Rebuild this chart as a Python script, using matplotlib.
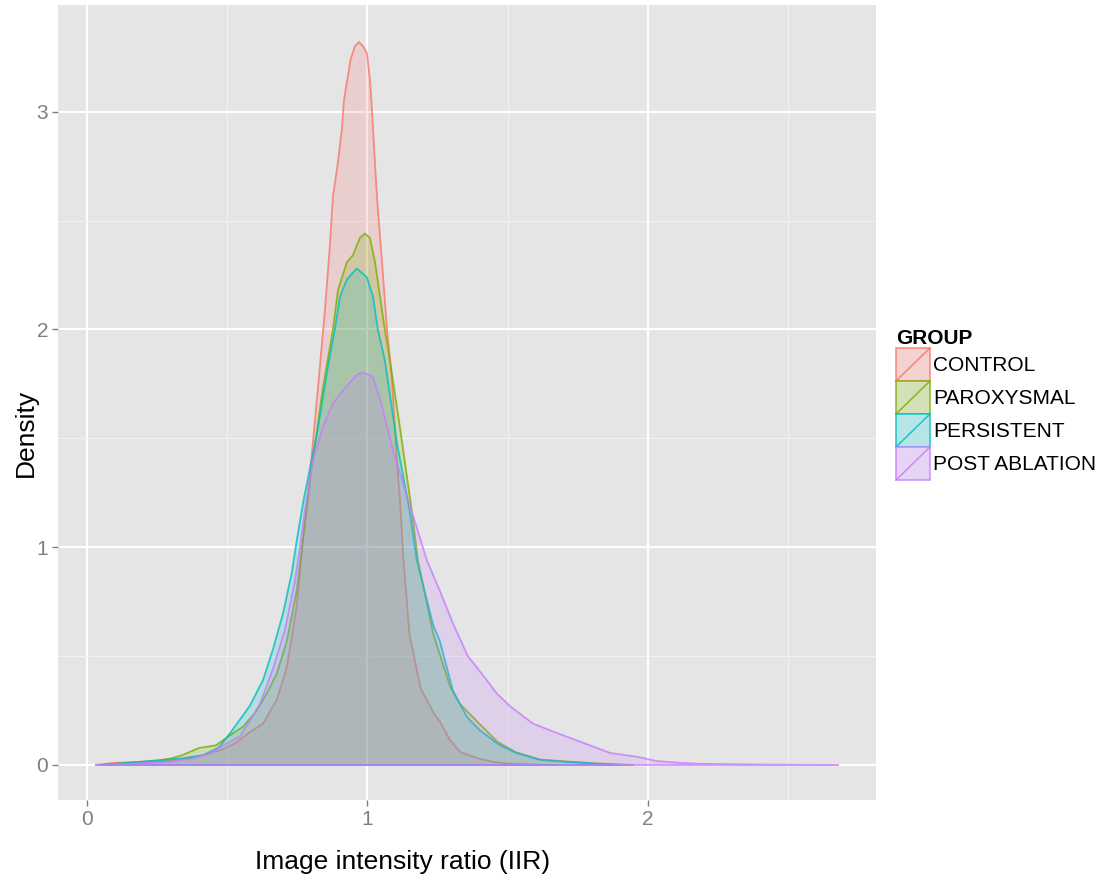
import numpy as np
import matplotlib
matplotlib.use("Agg")
import matplotlib.pyplot as plt
from matplotlib.legend_handler import HandlerBase
from matplotlib.patches import Rectangle, Patch
from matplotlib.lines import Line2D

plt.rcParams['font.family'] = ['Liberation Sans', 'DejaVu Sans']

# Density curves (x = IIR, y = density)
groups = ["CONTROL", "PAROXYSMAL", "PERSISTENT", "POST ABLATION"]
colors = ["#F8766D", "#7CAE00", "#00BFC4", "#C77CFF"]

control_x = [0.03, 0.10, 0.15, 0.20, 0.30, 0.40, 0.48, 0.53, 0.58, 0.628, 0.677, 0.713, 0.748,
             0.77, 0.80, 0.825, 0.848, 0.866, 0.877, 0.895, 0.909, 0.916, 0.94, 0.955, 0.97,
             0.985, 0.998, 1.009, 1.016, 1.034, 1.052, 1.07, 1.087, 1.105, 1.116, 1.127, 1.15,
             1.19, 1.24, 1.258, 1.294, 1.33, 1.39, 1.45, 1.50, 1.58, 1.65]
control_y = [0.0, 0.01, 0.012, 0.01, 0.02, 0.04, 0.07, 0.10, 0.15, 0.19, 0.30, 0.45, 0.73,
             1.03, 1.40, 1.75, 2.08, 2.38, 2.61, 2.77, 2.92, 3.05, 3.24, 3.30, 3.32,
             3.30, 3.27, 3.15, 3.01, 2.61, 2.31, 2.0, 1.78, 1.40, 1.22, 0.97, 0.60,
             0.35, 0.23, 0.20, 0.115, 0.06, 0.032, 0.014, 0.007, 0.003, 0.0]

parox_x = [0.05, 0.15, 0.25, 0.30, 0.34, 0.40, 0.46, 0.52, 0.556, 0.60, 0.642, 0.677, 0.713,
           0.748, 0.77, 0.80, 0.84, 0.877, 0.895, 0.927, 0.948, 0.973, 0.991, 1.009, 1.027,
           1.045, 1.062, 1.08, 1.116, 1.159, 1.18, 1.235, 1.295, 1.33, 1.41, 1.465, 1.53,
           1.615, 1.71, 1.83, 1.95]
parox_y = [0.0, 0.01, 0.02, 0.03, 0.045, 0.078, 0.09, 0.145, 0.175, 0.24, 0.33, 0.42, 0.57,
           0.80, 1.03, 1.35, 1.72, 2.0, 2.18, 2.31, 2.34, 2.42, 2.44, 2.42, 2.31,
           2.15, 2.0, 1.86, 1.55, 1.16, 0.94, 0.60, 0.36, 0.28, 0.175, 0.105, 0.058,
           0.025, 0.016, 0.006, 0.0]

persist_x = [0.05, 0.15, 0.26, 0.34, 0.414, 0.47, 0.51, 0.58, 0.628, 0.663, 0.70, 0.73, 0.748,
             0.773, 0.82, 0.862, 0.884, 0.902, 0.927, 0.962, 0.998, 1.02, 1.037, 1.062, 1.105,
             1.15, 1.176, 1.235, 1.258, 1.305, 1.355, 1.40, 1.47, 1.53, 1.615, 1.71, 1.79, 1.90]
persist_y = [0.0, 0.01, 0.022, 0.03, 0.045, 0.08, 0.145, 0.27, 0.39, 0.53, 0.70, 0.88, 1.03,
             1.22, 1.52, 1.85, 2.0, 2.15, 2.23, 2.28, 2.24, 2.15, 2.0, 1.86, 1.48,
             1.17, 0.94, 0.64, 0.57, 0.34, 0.22, 0.16, 0.092, 0.055, 0.023, 0.014, 0.008, 0.0]

post_x = [0.03, 0.15, 0.296, 0.38, 0.44, 0.50, 0.545, 0.58, 0.617, 0.663, 0.706, 0.741, 0.76,
          0.777, 0.806, 0.841, 0.877, 0.913, 0.94, 0.965, 0.984, 1.0, 1.02, 1.045, 1.055,
          1.09, 1.116, 1.159, 1.212, 1.258, 1.305, 1.358, 1.419, 1.46, 1.508, 1.59, 1.675,
          1.758, 1.865, 1.96, 2.03, 2.11, 2.19, 2.35, 2.50, 2.68]
post_y = [0.0, 0.005, 0.015, 0.03, 0.055, 0.10, 0.13, 0.20, 0.28, 0.44, 0.62, 0.84, 1.0,
          1.17, 1.40, 1.55, 1.66, 1.72, 1.76, 1.795, 1.80, 1.795, 1.78, 1.68, 1.63,
          1.45, 1.34, 1.16, 0.94, 0.80, 0.65, 0.50, 0.40, 0.33, 0.27, 0.19, 0.147,
          0.107, 0.055, 0.038, 0.018, 0.01, 0.005, 0.003, 0.001, 0.0]

curves = [(control_x, control_y), (parox_x, parox_y), (persist_x, persist_y), (post_x, post_y)]

BG = "#E5E5E5"
GREY50 = "#7F7F7F"


class SlashKey(HandlerBase):
    """ ggplot style legend key: filled box with a diagonal line. """
    def create_artists(self, legend, orig_handle, xdescent, ydescent, width, height, fontsize, trans):
        c = orig_handle.get_edgecolor()
        x0, y0 = -xdescent, -ydescent
        bg = Rectangle((x0, y0), width, height, facecolor="#F2F2F2", edgecolor="none", transform=trans)
        box = Rectangle((x0, y0), width, height, facecolor=(c[0], c[1], c[2], 0.25),
                        edgecolor=(c[0], c[1], c[2], 0.8), lw=1.2, transform=trans)
        ln = Line2D([x0, x0 + width], [y0, y0 + height], color=c, alpha=0.8, lw=1.2, transform=trans)
        return [bg, box, ln]


fig = plt.figure(figsize=(11.04, 8.86), dpi=100)
ax = fig.add_axes([58 / 1104, 1 - 800 / 886, (876 - 58) / 1104, (800 - 5) / 886])
ax.set_facecolor(BG)

for (xs, ys), c in zip(curves, colors):
    rgb = matplotlib.colors.to_rgb(c)
    ax.fill(xs, ys, facecolor=(*rgb, 0.2), edgecolor=(*rgb, 0.8), lw=1.3, zorder=3)

ax.set_xlim(-0.103, 2.813)
ax.set_ylim(-0.161, 3.49)
ax.set_xticks([0, 1, 2])
ax.set_yticks([0, 1, 2, 3])
ax.set_xticks([0.5, 1.5, 2.5], minor=True)
ax.set_yticks([0.5, 1.5, 2.5], minor=True)
ax.grid(which="major", color="white", lw=1.5, zorder=1)
ax.grid(which="minor", color="#F2F2F2", lw=0.8, zorder=1)
ax.set_axisbelow(True)
for s in ax.spines.values():
    s.set_visible(False)
ax.tick_params(which="major", colors=GREY50, labelsize=15, length=4, width=1, pad=3)
ax.tick_params(which="minor", length=0)

ax.set_xlabel("Image intensity ratio (IIR)", fontsize=19, va="center")
ax.set_ylabel("Density", fontsize=19, va="center", ha="center")
ax.xaxis.set_label_coords((403 - 58) / 818, (800 - 862) / 795)
ax.yaxis.set_label_coords((26 - 58) / 818, (800 - 433) / 795)

handles = [Patch(facecolor=c, edgecolor=c) for c in colors]
leg = fig.legend(handles, groups, handler_map={Patch: SlashKey()}, title="GROUP",
                 loc="upper left", bbox_to_anchor=(896 / 1104, 1 - 329 / 886),
                 frameon=False, fontsize=15, title_fontproperties={"weight": "bold", "size": 15},
                 handlelength=1.63, handleheight=2.06, labelspacing=0, handletextpad=0.15,
                 borderpad=0, borderaxespad=0, alignment="left")

fig.savefig("out.png", dpi=100, facecolor="white")
